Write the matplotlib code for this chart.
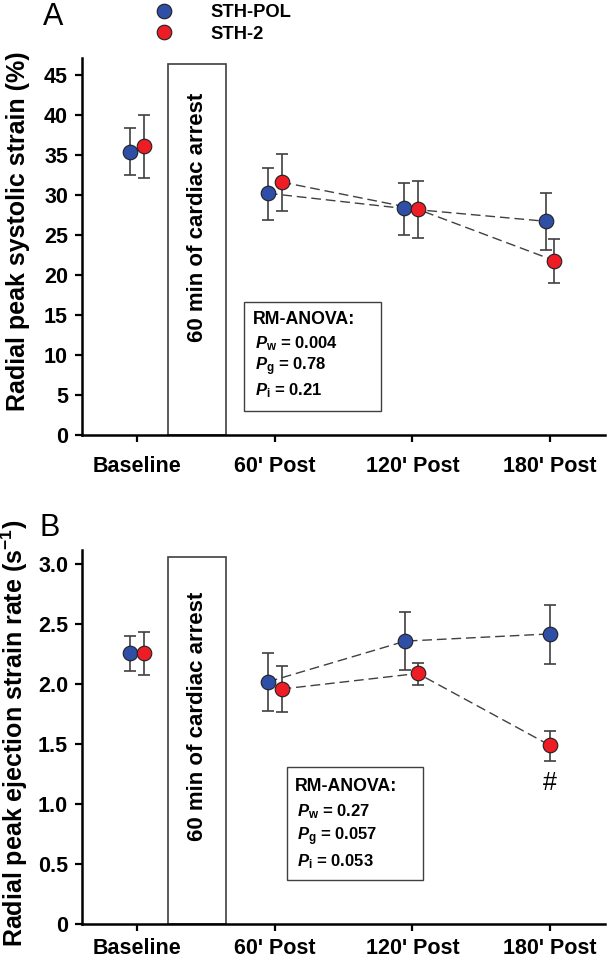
import matplotlib
matplotlib.use("Agg")
import matplotlib.pyplot as plt
from matplotlib.lines import Line2D
from matplotlib.patches import Rectangle
import numpy as np

plt.rcParams["font.family"] = ["Liberation Sans", "DejaVu Sans"]
plt.rcParams["mathtext.fontset"] = "custom"
plt.rcParams["mathtext.rm"] = "Liberation Sans:bold"
plt.rcParams["mathtext.it"] = "Liberation Sans:italic:bold"
plt.rcParams["mathtext.bf"] = "Liberation Sans:bold"

# ---- data -------------------------------------------------------------
timepoints = ["Baseline", "60' Post", "120' Post", "180' Post"]
groups = ["STH-POL", "STH-2"]

# panel A: radial peak systolic strain (%)
a_pol_mean = [35.4, 30.2, 28.3, 26.7]
a_pol_lo = [32.5, 26.8, 25.0, 23.1]
a_pol_hi = [38.3, 33.4, 31.5, 30.2]
a_sth2_mean = [36.1, 31.6, 28.2, 21.8]
a_sth2_lo = [32.1, 28.0, 24.6, 19.0]
a_sth2_hi = [40.0, 35.1, 31.7, 24.5]
a_stats = ["0.004", "0.78", "0.21"]

# panel B: radial peak ejection strain rate (1/s)
b_pol_mean = [2.26, 2.02, 2.36, 2.42]
b_pol_lo = [2.11, 1.78, 2.12, 2.17]
b_pol_hi = [2.40, 2.26, 2.60, 2.66]
b_sth2_mean = [2.26, 1.96, 2.09, 1.49]
b_sth2_lo = [2.08, 1.77, 1.99, 1.36]
b_sth2_hi = [2.44, 2.15, 2.18, 1.61]
b_stats = ["0.27", "0.057", "0.053"]

# per-point horizontal offsets (data units) so the two groups don't overlap
a_pol_dx = [-0.05, -0.05, -0.06, -0.03]
a_sth2_dx = [0.05, 0.05, 0.04, 0.03]
b_pol_dx = [-0.05, -0.05, -0.05, 0.0]
b_sth2_dx = [0.05, 0.05, 0.04, 0.0]

BLUE = "#2f4fa6"
RED = "#ee1c25"
GREY = "#404040"


def draw_series(ax, mean, lo, hi, dx, color):
    x = np.arange(len(mean)) + np.array(dx)
    mean = np.array(mean)
    yerr = [mean - np.array(lo), np.array(hi) - mean]
    ax.errorbar(x, mean, yerr=yerr, fmt="none", ecolor=GREY, elinewidth=1.2,
                capsize=4.5, capthick=1.2, zorder=2)
    ax.plot(x[1:], mean[1:], ls=(0, (7, 3.5)), color=GREY, lw=1.0, zorder=1)
    ax.plot(x, mean, "o", ms=10.5, mfc=color, mec="#202020", mew=0.8,
            zorder=3)


def style_axis(ax, ymax, yticks, ylabel, label_y, xpad):
    ax.set_xlim(-0.4, 3.4)
    ax.set_ylim(0, ymax)
    ax.set_xticks(range(len(timepoints)))
    ax.set_xticklabels(timepoints)
    ax.set_yticks(yticks)
    for s in ("top", "right"):
        ax.spines[s].set_visible(False)
    for s in ("left", "bottom"):
        ax.spines[s].set_linewidth(1.8)
    ax.tick_params(axis="both", direction="out", length=5, width=1.6,
                   labelsize=15.5)
    ax.tick_params(axis="x", pad=xpad)
    ax.tick_params(axis="y", pad=5)
    for t in ax.get_xticklabels() + ax.get_yticklabels():
        t.set_fontweight("bold")
    ax.set_ylabel(ylabel, fontsize=18, fontweight="bold")
    ax.yaxis.set_label_coords(-0.1, label_y)


def arrest_bar(ax, top, text_y):
    ax.add_patch(Rectangle((0.225, 0), 0.42, top, fill=False, ec=GREY,
                           lw=1.2, zorder=1, clip_on=False))
    ax.text(0.437, text_y, "60 min of cardiac arrest", rotation=90,
            ha="center", va="center", fontsize=16, fontweight="bold")


def stats_box(ax, x0, x1, y0, y1, tx, ty, dy, vals):
    ax.add_patch(Rectangle((x0, y0), x1 - x0, y1 - y0, fill=False, ec=GREY,
                           lw=1.0, zorder=1))
    ax.text(tx, ty, "RM-ANOVA:", fontsize=12.8, fontweight="bold",
            ha="left", va="center")
    for i, (sub, v) in enumerate(zip(["w", "g", "i"], vals)):
        ax.text(tx + 0.015, ty - (i + 1) * dy,
                r"$P_{\mathrm{%s}}$ = %s" % (sub, v),
                fontsize=12, fontweight="bold", ha="left", va="center")


fig = plt.figure(figsize=(6.08, 9.64), dpi=100)
axA = fig.add_axes([82 / 608, 1 - 435 / 964, 523 / 608, 377 / 964])
axB = fig.add_axes([82 / 608, 1 - 924 / 964, 523 / 608, 374 / 964])

# panel A
arrest_bar(axA, 46.4, 27.2)
draw_series(axA, a_pol_mean, a_pol_lo, a_pol_hi, a_pol_dx, BLUE)
draw_series(axA, a_sth2_mean, a_sth2_lo, a_sth2_hi, a_sth2_dx, RED)
style_axis(axA, 47.1, np.arange(0, 46, 5),
           "Radial peak systolic strain (%)", 0.54, 10)
stats_box(axA, 0.778, 1.775, 3.0, 16.6, 0.84, 14.4, 2.95, a_stats)

# panel B
arrest_bar(axB, 3.06, 1.73)
draw_series(axB, b_pol_mean, b_pol_lo, b_pol_hi, b_pol_dx, BLUE)
draw_series(axB, b_sth2_mean, b_sth2_lo, b_sth2_hi, b_sth2_dx, RED)
style_axis(axB, 3.12, np.arange(0, 3.01, 0.5),
           r"Radial peak ejection strain rate (s$^{\mathrm{-1}}$)", 0.51, 5)
axB.set_yticklabels(["0", "0.5", "1.0", "1.5", "2.0", "2.5", "3.0"])
for t in axB.get_yticklabels():
    t.set_fontweight("bold")
stats_box(axB, 1.09, 2.08, 0.37, 1.31, 1.15, 1.15, 0.21, b_stats)
axB.text(3.0, 1.18, "#", ha="center", va="center", fontsize=18)

# panel letters
fig.text(43 / 608, 1 - 17 / 964, "A", fontsize=22, ha="left", va="center")
fig.text(40 / 608, 1 - 528 / 964, "B", fontsize=22, ha="left", va="center")

# legend
handles = [Line2D([], [], ls="none", marker="o", ms=10.5, mfc=c,
                  mec="#202020", mew=0.8) for c in (BLUE, RED)]
fig.legend(handles, groups, loc="upper left",
           bbox_to_anchor=(153 / 608, 1 - 4 / 964), frameon=False,
           prop={"weight": "bold", "size": 13.2}, handlelength=1.2,
           handletextpad=1.95, labelspacing=0.25, borderpad=0.0,
           borderaxespad=0.0)

fig.savefig("out.png", dpi=100)
